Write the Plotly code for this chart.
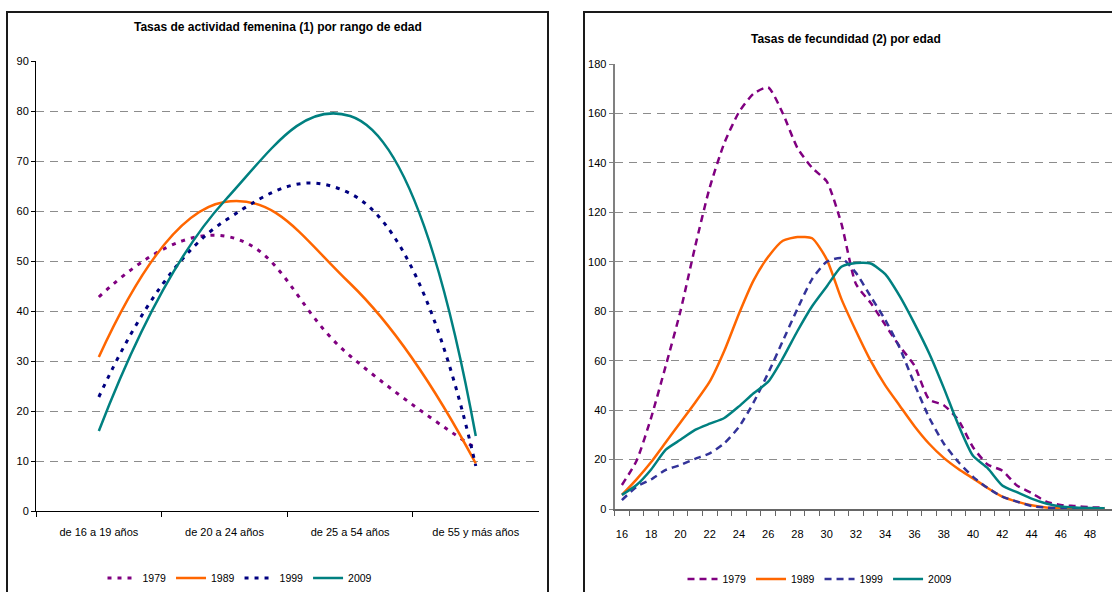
import plotly.graph_objects as go

# ---- Female activity rates by age band ----
age_bands = ["de 16 a 19 años", "de 20 a 24 años", "de 25 a 54 años", "de 55 y más años"]
act_1979 = [42.8, 55.0, 31.0, 12.5]
act_1989 = [30.8, 61.8, 45.5, 9.5]
act_1999 = [22.8, 58.0, 63.5, 9.0]
act_2009 = [16.0, 62.0, 79.0, 15.0]

# ---- Fertility rates by single year of age ----
ages = list(range(16, 50))
fec_1979 = [9.7, 19.5, 37, 58, 80, 106, 130, 148, 160.5, 168, 170.5, 160, 146, 138, 132.5,
            115.5, 91, 83.4, 74.5, 65.7, 58, 44.3, 42, 36, 25, 18, 15.5, 9.5, 6.5, 3, 1.6,
            1.2, 0.7, 0.5]
fec_1989 = [5.7, 12, 19, 27, 35, 43, 51.5, 64, 79, 92.5, 102, 108.5, 110, 109.5, 101,
            85, 72, 60, 50, 41.7, 33.5, 26.4, 20.7, 16.2, 12.4, 8.5, 5, 3, 1.5, 0.6, 0.3,
            0.2, 0.1, 0.1]
fec_1999 = [3.6, 9, 12, 15.8, 17.8, 20.3, 22.5, 26.6, 33.2, 43.1, 55, 68, 81, 93, 100,
            101.5, 95.5, 86, 76.5, 65, 50.5, 37, 26.5, 19, 13, 8.5, 5, 3, 1.2, 0.6, 0.3,
            0.2, 0.1, 0.1]
fec_2009 = [5.7, 9.7, 16, 24, 28, 32, 34.5, 36.8, 41.5, 46.8, 51.5, 61, 72, 82, 90,
            98, 99.5, 99.3, 95, 86, 75, 63, 49, 34, 21.5, 16.5, 9.5, 6.8, 4.2, 2.2, 1,
            0.6, 0.4, 0.3]

years = ["1979", "1989", "1999", "2009"]

FONT = "Liberation Sans Narrow, Arial Narrow, Liberation Sans, Arial, sans-serif"
W, H = 1112, 592

left_styles = {
    "1979": dict(color="#800080", width=3, dash="4px,6px"),
    "1989": dict(color="#FF6600", width=2.5, dash="solid"),
    "1999": dict(color="#000080", width=3, dash="4px,6px"),
    "2009": dict(color="#008080", width=2.5, dash="solid"),
}
right_styles = {
    "1979": dict(color="#800080", width=2.5, dash="7px,5px"),
    "1989": dict(color="#FF6600", width=2.5, dash="solid"),
    "1999": dict(color="#333399", width=2.5, dash="7px,5px"),
    "2009": dict(color="#008080", width=2.5, dash="solid"),
}

fig = go.Figure()

for yr, vals in zip(years, [act_1979, act_1989, act_1999, act_2009]):
    st = left_styles[yr]
    fig.add_trace(go.Scatter(
        x=age_bands, y=vals, name=yr, mode="lines",
        line=dict(color=st["color"], width=st["width"], dash=st["dash"],
                  shape="spline", smoothing=1.3),
        xaxis="x", yaxis="y", legend="legend",
    ))

for yr, vals in zip(years, [fec_1979, fec_1989, fec_1999, fec_2009]):
    st = right_styles[yr]
    fig.add_trace(go.Scatter(
        x=ages, y=vals, name=yr, mode="lines",
        line=dict(color=st["color"], width=st["width"], dash=st["dash"],
                  shape="spline", smoothing=0.6),
        xaxis="x2", yaxis="y2", legend="legend2",
    ))

grid = dict(showgrid=True, gridcolor="#8c8c8c", gridwidth=1, griddash="8px,6px")
tickfont = dict(family=FONT, size=11, color="#000000")

fig.update_layout(
    template="none",
    width=W, height=H,
    margin=dict(l=0, r=0, t=0, b=0, autoexpand=False),
    paper_bgcolor="#ffffff", plot_bgcolor="#ffffff",
    font=dict(family=FONT, size=11, color="#000000"),
    xaxis=dict(
        domain=[36 / W, 538.6 / W], anchor="y", type="category", automargin=False,
        categoryorder="array", categoryarray=age_bands, range=[-0.5, 3.5],
        tickson="boundaries", ticks="outside", ticklen=5, tickcolor="#000000",
        showline=True, linecolor="#000000", linewidth=1,
        showgrid=False, zeroline=False, tickfont=tickfont, ticklabelstandoff=11,
    ),
    yaxis=dict(
        domain=[1 - 511 / H, 1 - 61 / H], anchor="x", range=[0, 90], dtick=10,
        automargin=False, ticks="outside", ticklen=4, tickcolor="#000000",
        showline=True, linecolor="#000000", linewidth=1,
        zeroline=False, tickfont=tickfont, **grid,
    ),
    xaxis2=dict(
        domain=[614.6 / W, 1.0], anchor="y2", range=[15.5, 49.5], automargin=False,
        tickvals=list(range(16, 50, 2)), ticks="",
        minor=dict(ticks="outside", tick0=15.5, dtick=1, ticklen=5,
                   tickcolor="#666666", showgrid=False),
        showline=True, linecolor="#666666", linewidth=2,
        showgrid=False, zeroline=False, tickfont=tickfont, ticklabelstandoff=14,
    ),
    yaxis2=dict(
        domain=[1 - 509 / H, 1 - 64 / H], anchor="x2", range=[0, 180], dtick=20,
        automargin=False, ticks="outside", ticklen=4, tickcolor="#808080",
        showline=True, linecolor="#808080", linewidth=2,
        zeroline=False, tickfont=tickfont, **grid,
    ),
    legend=dict(
        orientation="h", x=240 / W, xanchor="center", y=1 - 578 / H, yanchor="middle",
        font=dict(family=FONT, size=10.5), itemwidth=30, tracegroupgap=0,
        bgcolor="rgba(0,0,0,0)",
    ),
    legend2=dict(
        orientation="h", x=820 / W, xanchor="center", y=1 - 579 / H, yanchor="middle",
        font=dict(family=FONT, size=10.5), itemwidth=30, tracegroupgap=0,
        bgcolor="rgba(0,0,0,0)",
    ),
    annotations=[
        dict(text="<b>Tasas de actividad femenina (1) por rango de edad</b>",
             xref="paper", yref="paper", x=278 / W, y=1 - 27 / H,
             xanchor="center", yanchor="middle", showarrow=False,
             font=dict(family=FONT, size=12, color="#000000")),
        dict(text="<b>Tasas de fecundidad (2) por edad</b>",
             xref="paper", yref="paper", x=846 / W, y=1 - 39 / H,
             xanchor="center", yanchor="middle", showarrow=False,
             font=dict(family=FONT, size=12, color="#000000")),
    ],
    shapes=[
        # panel frames
        dict(type="rect", xref="paper", yref="paper",
             x0=7 / W, x1=548 / W, y0=-0.05, y1=1 - 12 / H,
             line=dict(color="#1a1a1a", width=2), layer="below"),
        dict(type="rect", xref="paper", yref="paper",
             x0=584 / W, x1=1.05, y0=-0.05, y1=1 - 12 / H,
             line=dict(color="#1a1a1a", width=2), layer="below"),
    ],
)

fig.write_html("out.html")
